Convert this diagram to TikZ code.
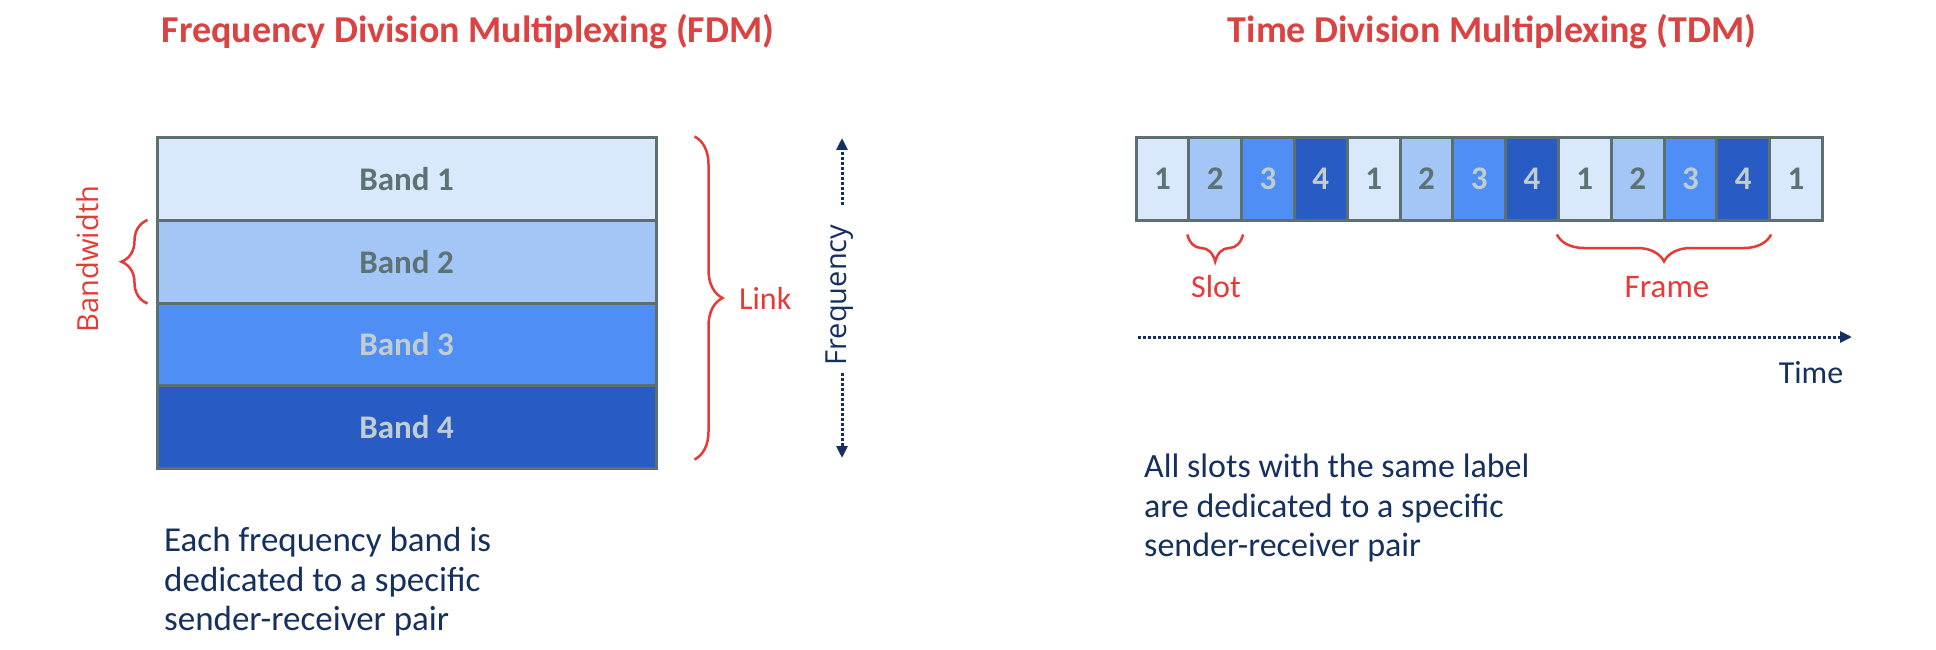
\documentclass[tikz,border=0pt]{standalone}
\usepackage{fontspec}
\setmainfont{Carlito}
\newfontfamily\osans{Open Sans}
\usetikzlibrary{decorations.pathreplacing,arrows.meta}
\definecolor{cA}{HTML}{DAE8FC}
\definecolor{cB}{HTML}{A3C6F7}
\definecolor{cC}{HTML}{4F8EF5}
\definecolor{cD}{HTML}{285CC4}
\definecolor{bord}{HTML}{5C7070}
\definecolor{txdark}{HTML}{5D7373}
\definecolor{txlight}{HTML}{C2CDD0}
\definecolor{titlered}{HTML}{DB4343}
\definecolor{lblred}{HTML}{E63A35}
\definecolor{navy}{HTML}{15305F}
\begin{document}
\begin{tikzpicture}[x=1pt,y=-1pt,
  band/.style={draw=bord,line width=3pt,minimum width=499pt,minimum height=82.5pt,inner sep=0pt,
    font=\bfseries\fontsize{33}{38}\selectfont},
  slotbox/.style={draw=bord,line width=3pt,minimum width=52.8pt,minimum height=82pt,inner sep=0pt,
    font=\bfseries\fontsize{33}{38}\selectfont},
  ttl/.style={text=titlered,inner sep=0pt,font=\bfseries\fontsize{38}{46}\selectfont},
  lbl/.style={text=lblred,inner sep=0pt,font=\fontsize{32}{38}\selectfont},
  rotlbl/.style={rotate=90,inner sep=0pt,font=\osans\fontsize{29}{34}\selectfont},
  note/.style={text=navy,inner sep=0pt,align=left,font=\fontsize{#1}{39.5}\selectfont},
  note/.default=34,
  brc/.style={draw=lblred,line width=2.5pt,decorate,decoration={brace,amplitude=#1}},
  darrow/.style={draw=navy,line width=3pt,dash pattern=on 2.5pt off 2.5pt,
    -{Triangle[length=12pt,width=11pt]}},
]
\useasboundingbox (0,0) rectangle (1936,650);

% titles
\node[ttl] (fdmt) at (468,32) {Frequency Division Multiplexing (FDM)};
\node[ttl] (tdmt) at (1492,32) {Time Division Multiplexing (TDM)};

% FDM bands
\node[band,fill=cA,text=txdark] (b1) at (406.5,179.25) {Band 1};
\node[band,fill=cB,text=txdark] (b2) at (406.5,261.75) {Band 2};
\node[band,fill=cC,text=txlight] (b3) at (406.5,344.25) {Band 3};
\node[band,fill=cD,text=txlight] (b4) at (406.5,426.75) {Band 4};

% bandwidth brace
\draw[brc=26pt] ([xshift=-8pt,yshift=1pt]b2.south west) -- ([xshift=-8pt,yshift=-1pt]b2.north west);
\node[rotlbl,text=lblred] (bw) at (88,259) {Bandwidth};

% link brace
\draw[brc=28pt] ([xshift=37pt]b1.north east) -- ([xshift=37pt,yshift=10pt]b4.south east);
\node[lbl,anchor=west] (link) at (739,298) {Link};

% frequency axis
\node[rotlbl,text=navy] (freq) at (840,295) {Frequency};
\coordinate (ftop) at (842,138);
\coordinate (fbot) at (842,458);
\draw[darrow] ([yshift=20pt]freq.east -| ftop) -- (ftop);
\draw[darrow] ([yshift=-8pt]freq.west -| fbot) -- (fbot);

% FDM note
\node[note=35,anchor=north west] (fnote) at (164,527) {Each frequency band is\\dedicated to a specific\\sender-receiver pair};

% TDM slots
\foreach \i/\n/\f/\t in {1/1/cA/txdark,2/2/cB/txdark,3/3/cC/txlight,4/4/cD/txlight,
  5/1/cA/txdark,6/2/cB/txdark,7/3/cC/txlight,8/4/cD/txlight,
  9/1/cA/txdark,10/2/cB/txdark,11/3/cC/txlight,12/4/cD/txlight,13/1/cA/txdark}{
  \node[slotbox,fill=\f,text=\t] (s\i) at ({1136+26.4+52.8*(\i-1)},179) {\n};
}

% slot and frame braces
\draw[brc=27pt] ([yshift=-13pt]s2.south east) -- ([yshift=-13pt]s2.south west);
\node[lbl] (slot) at (1216,287) {Slot};
\draw[brc=27pt] ([yshift=-13pt]s12.south east) -- ([yshift=-13pt]s9.south west);
\node[lbl,font=\fontsize{33}{38}\selectfont] (frame) at (1667,287) {Frame};

% time axis
\coordinate (t0) at (1138,337);
\coordinate (t1) at (1852,337);
\draw[darrow] (t0) -- (t1);
\node[note=32] (time) at (1811,373) {Time};

% TDM note
\node[note=34,anchor=north west] (tnote) at (1144,454) {All slots with the same label\\are dedicated to a specific\\sender-receiver pair};
\end{tikzpicture}
\end{document}
